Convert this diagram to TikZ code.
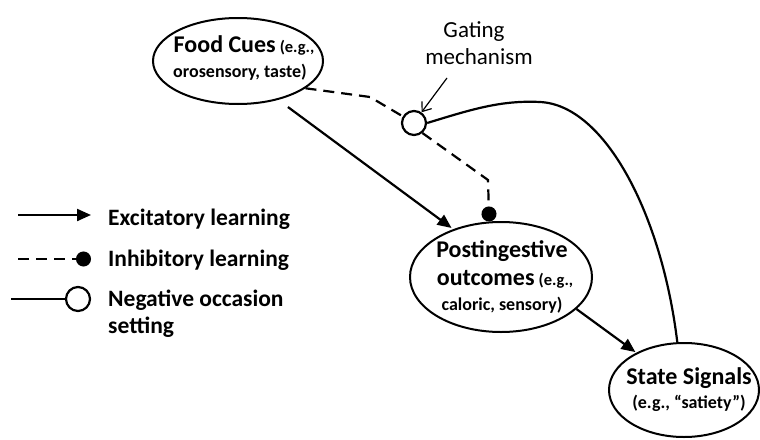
\documentclass[tikz,border=0pt]{standalone}
\usepackage{fontspec}
\setmainfont{Carlito}
\usetikzlibrary{arrows.meta,shapes.geometric}
\tikzset{
  oval/.style={ellipse,draw,line width=2pt,inner sep=0pt},
  bigt/.style={anchor=base,inner sep=0pt,font=\bfseries\fontsize{24}{28}\selectfont},
  smallt/.style={anchor=base,inner sep=0pt,font=\bfseries\fontsize{18}{21}\selectfont},
  legt/.style={anchor=base west,inner sep=0pt,font=\bfseries\fontsize{23.5}{28}\selectfont},
  gatet/.style={anchor=base,inner sep=0pt,font=\fontsize{23}{27}\selectfont},
  excite/.style={line width=2.2pt,-{Triangle[length=14pt,width=12pt]}},
  inhib/.style={line width=2.2pt,dash pattern=on 11pt off 7pt,-{Circle[length=15pt]}},
  occ/.style={line width=2.2pt},
  opencirc/.style={circle,draw,line width=2.2pt,fill=white,minimum size=24pt,inner sep=0pt},
}
\begin{document}
\begin{tikzpicture}[x=1pt,y=-1pt]
\useasboundingbox (0,0) rectangle (760,439);

% ovals
\node[oval,minimum width=170pt,minimum height=86pt] (fc) at (238,61) {};
\node[oval,minimum width=182pt,minimum height=110pt] (po) at (501,277) {};
\node[oval,minimum width=150pt,minimum height=94pt] (ss) at (684,390) {};

% texts
\node[bigt] (fc1) at (244,52) {Food Cues\hspace{4pt}{\fontsize{16.5}{20}\selectfont (e.g.,}};
\node[smallt] (fc2) at (240,77) {orosensory, taste)};
\node[bigt] (po1) at (502,257) {Postingestive};
\node[bigt] (po2) at (505,285) {outcomes\hspace{4pt}{\fontsize{16.5}{20}\selectfont (e.g.,}};
\node[smallt] (po3) at (502,310) {caloric, sensory)};
\node[bigt] (ss1) at (689,384) {State Signals};
\node[smallt] (ss2) at (689,408) {(e.g., “satiety”)};

% gating
\node[opencirc] (gate) at (414,123) {};
\node[gatet] (g1) at (474,37) {Gating};
\node[gatet] (g2) at (479,64) {mechanism};
\coordinate (gs) at (447,78);
\draw[line width=1.2pt,-{Straight Barb[length=8pt,width=12pt]}] (gs) -- (gate.55);

% connections
\draw[excite,shorten <=12pt,shorten >=2pt] (fc.-44) -- (po.135);
\draw[excite,shorten >=1pt] (po.-23) -- (ss.142);
\coordinate (d1) at (370,97);
\coordinate (d2) at (488,180);
\draw[line width=2.2pt,dash pattern=on 11pt off 7pt] (fc.-22) -- (d1) -- (gate);
\draw[inhib] (gate.-50) -- (d2) -- (po.102);
\draw[occ] (gate.east) .. controls (470,110) and (500,100) .. (540,102)
  .. controls (605,105) and (662,215) .. (ss.98);

% legend
\coordinate (l1a) at (18,215); \coordinate (l1b) at (91,215);
\draw[excite] (l1a) -- (l1b);
\node[legt] (t1) at (108,225) {Excitatory learning};
\coordinate (l2a) at (18,259); \coordinate (l2b) at (91,259);
\draw[inhib] (l2a) -- (l2b);
\node[legt] (t2) at (108,266) {Inhibitory learning};
\node[opencirc] (lc) at (78,299) {};
\coordinate (l3a) at (11,299);
\draw[occ] (l3a) -- (lc);
\node[legt] (t3) at (108,306) {Negative occasion};
\node[legt] (t4) at (108,333) {setting};
\end{tikzpicture}
\end{document}
